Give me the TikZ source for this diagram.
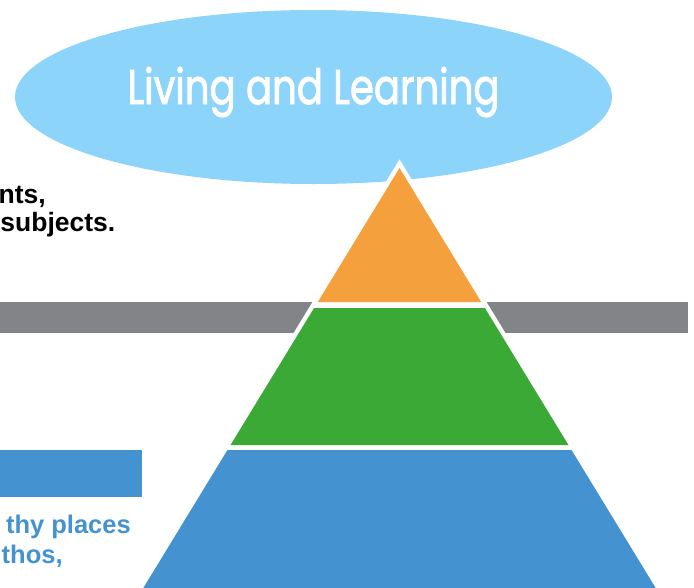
\documentclass[tikz,border=0pt]{standalone}
\usepackage{fontspec}
\setmainfont{Liberation Sans}
\newfontfamily\titlefont[FakeBold=2]{Poppins}
\usetikzlibrary{shapes.geometric}
\definecolor{ellblue}{HTML}{8DD4FA}
\definecolor{greybar}{HTML}{838488}
\definecolor{bluebar}{HTML}{4492CF}
\definecolor{pyrgreen}{HTML}{3BA936}
\definecolor{pyrorange}{HTML}{F4A03C}
\tikzset{
  blacktext/.style={font=\fontsize{26.5}{30}\selectfont\bfseries, inner sep=0pt, text=black},
  bluetext/.style={font=\fontsize{25.5}{30}\selectfont\bfseries, inner sep=0pt, text=bluebar},
  bubble/.style={ellipse, fill=ellblue, minimum width=597pt, minimum height=174pt, inner sep=0pt},
  titletext/.style={text=white, inner sep=0pt}
}
\begin{document}
\begin{tikzpicture}[x=1pt,y=-1pt]
\useasboundingbox (0,0) rectangle (694,587);
\clip (0,0) rectangle (694,587);
% speech bubble
\node[bubble] (bubble) at (313.5,97) {};
\node[titletext, anchor=base] (title) at (313.5,104) {\resizebox{372pt}{37pt}{\titlefont Living and Learning}};
% bars
\fill[greybar] (0,302) rectangle (688,332.7);
\fill[bluebar] (0,450) rectangle (142,496.7);
% pyramid white outline
\coordinate (apex) at (399.5,168);
\fill[white, draw=white, line width=9pt] (apex) -- (135.98,600) -- (663.02,600) -- cycle;
% layers
\fill[pyrorange] (apex) -- (317.76,302) -- (481.24,302) -- cycle;
\fill[pyrgreen] (314.1,308) -- (484.9,308) -- (568.47,445) -- (230.53,445) -- cycle;
\fill[bluebar] (227.48,450) -- (571.52,450) -- (663.02,600) -- (135.98,600) -- cycle;
% texts
\node[blacktext, anchor=base east] (t1) at (46,203.5) {nts,};
\node[blacktext, anchor=base east] (t2) at (115.5,231) {subjects.};
\node[bluetext, anchor=base east] (b1) at (131,533) {thy places};
\node[bluetext, anchor=base west] (b2) at (1.5,563) {thos,};
\end{tikzpicture}
\end{document}
